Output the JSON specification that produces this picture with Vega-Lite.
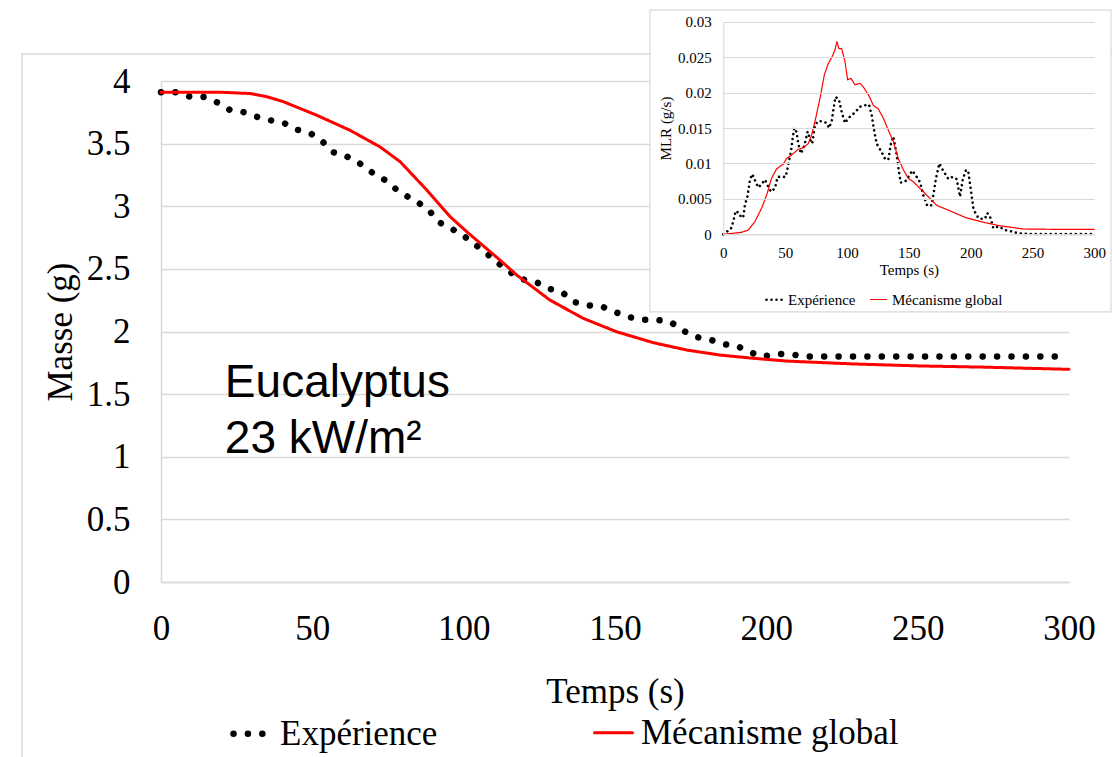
{
  "$schema": "https://vega.github.io/schema/vega-lite/v6.json",
  "width": 908,
  "height": 501,
  "autosize": {"type": "none"},
  "padding": {"left": 161, "top": 81, "right": 43, "bottom": 175},
  "background": "white",
  "config": {
    "view": {"stroke": null},
    "font": "Liberation Serif"
  },
  "datasets": {
    "one": [{}],
    "main": [
      {"t": 0, "m": 3.91, "s": "Expérience"},
      {"t": 5, "m": 3.91, "s": "Expérience"},
      {"t": 9.5, "m": 3.875, "s": "Expérience"},
      {"t": 14.1, "m": 3.872, "s": "Expérience"},
      {"t": 18.5, "m": 3.83, "s": "Expérience"},
      {"t": 22.6, "m": 3.771, "s": "Expérience"},
      {"t": 27.2, "m": 3.752, "s": "Expérience"},
      {"t": 31.6, "m": 3.715, "s": "Expérience"},
      {"t": 36.2, "m": 3.686, "s": "Expérience"},
      {"t": 40.9, "m": 3.662, "s": "Expérience"},
      {"t": 45, "m": 3.611, "s": "Expérience"},
      {"t": 49.7, "m": 3.577, "s": "Expérience"},
      {"t": 53.5, "m": 3.513, "s": "Expérience"},
      {"t": 56.9, "m": 3.431, "s": "Expérience"},
      {"t": 61.3, "m": 3.399, "s": "Expérience"},
      {"t": 65.5, "m": 3.345, "s": "Expérience"},
      {"t": 69.3, "m": 3.276, "s": "Expérience"},
      {"t": 73.4, "m": 3.22, "s": "Expérience"},
      {"t": 77.1, "m": 3.146, "s": "Expérience"},
      {"t": 81, "m": 3.084, "s": "Expérience"},
      {"t": 85.1, "m": 3.028, "s": "Expérience"},
      {"t": 88.9, "m": 2.957, "s": "Expérience"},
      {"t": 91.9, "m": 2.872, "s": "Expérience"},
      {"t": 96.2, "m": 2.818, "s": "Expérience"},
      {"t": 100.2, "m": 2.76, "s": "Expérience"},
      {"t": 104.1, "m": 2.688, "s": "Expérience"},
      {"t": 107.8, "m": 2.619, "s": "Expérience"},
      {"t": 111.4, "m": 2.545, "s": "Expérience"},
      {"t": 115.3, "m": 2.475, "s": "Expérience"},
      {"t": 119.3, "m": 2.417, "s": "Expérience"},
      {"t": 123.9, "m": 2.395, "s": "Expérience"},
      {"t": 128.2, "m": 2.342, "s": "Expérience"},
      {"t": 132.7, "m": 2.31, "s": "Expérience"},
      {"t": 136.4, "m": 2.236, "s": "Expérience"},
      {"t": 141, "m": 2.209, "s": "Expérience"},
      {"t": 145.5, "m": 2.201, "s": "Expérience"},
      {"t": 149.8, "m": 2.158, "s": "Expérience"},
      {"t": 154.1, "m": 2.118, "s": "Expérience"},
      {"t": 158.8, "m": 2.094, "s": "Expérience"},
      {"t": 163.5, "m": 2.094, "s": "Expérience"},
      {"t": 168.3, "m": 2.078, "s": "Expérience"},
      {"t": 172.1, "m": 2.012, "s": "Expérience"},
      {"t": 176.4, "m": 1.958, "s": "Expérience"},
      {"t": 181, "m": 1.938, "s": "Expérience"},
      {"t": 185.7, "m": 1.9, "s": "Expérience"},
      {"t": 190.1, "m": 1.887, "s": "Expérience"},
      {"t": 194.2, "m": 1.839, "s": "Expérience"},
      {"t": 198.5, "m": 1.799, "s": "Expérience"},
      {"t": 203.1, "m": 1.82, "s": "Expérience"},
      {"t": 207.9, "m": 1.82, "s": "Expérience"},
      {"t": 212.7, "m": 1.8, "s": "Expérience"},
      {"t": 300, "m": 1.8, "s": "Expérience"},
      {"t": 0, "m": 3.91, "s": "Mécanisme global"},
      {"t": 20, "m": 3.91, "s": "Mécanisme global"},
      {"t": 29.4, "m": 3.9, "s": "Mécanisme global"},
      {"t": 34.9, "m": 3.875, "s": "Mécanisme global"},
      {"t": 40.4, "m": 3.835, "s": "Mécanisme global"},
      {"t": 51.4, "m": 3.727, "s": "Mécanisme global"},
      {"t": 62.4, "m": 3.607, "s": "Mécanisme global"},
      {"t": 72.3, "m": 3.475, "s": "Mécanisme global"},
      {"t": 79, "m": 3.356, "s": "Mécanisme global"},
      {"t": 87.8, "m": 3.13, "s": "Mécanisme global"},
      {"t": 95.5, "m": 2.917, "s": "Mécanisme global"},
      {"t": 101, "m": 2.797, "s": "Mécanisme global"},
      {"t": 112, "m": 2.57, "s": "Mécanisme global"},
      {"t": 117.5, "m": 2.451, "s": "Mécanisme global"},
      {"t": 128.5, "m": 2.251, "s": "Mécanisme global"},
      {"t": 139.5, "m": 2.105, "s": "Mécanisme global"},
      {"t": 150.5, "m": 1.998, "s": "Mécanisme global"},
      {"t": 162.6, "m": 1.911, "s": "Mécanisme global"},
      {"t": 173.7, "m": 1.852, "s": "Mécanisme global"},
      {"t": 184.7, "m": 1.812, "s": "Mécanisme global"},
      {"t": 195.7, "m": 1.786, "s": "Mécanisme global"},
      {"t": 206.7, "m": 1.764, "s": "Mécanisme global"},
      {"t": 228.7, "m": 1.741, "s": "Mécanisme global"},
      {"t": 250.7, "m": 1.725, "s": "Mécanisme global"},
      {"t": 272.8, "m": 1.715, "s": "Mécanisme global"},
      {"t": 300, "m": 1.698, "s": "Mécanisme global"}
    ],
    "inset": [
      {"t": 0, "v": 0, "s": "Expérience"},
      {"t": 6.2, "v": 0.0008, "s": "Expérience"},
      {"t": 8.1, "v": 0.0018, "s": "Expérience"},
      {"t": 10, "v": 0.0033, "s": "Expérience"},
      {"t": 12.7, "v": 0.003, "s": "Expérience"},
      {"t": 14.8, "v": 0.0023, "s": "Expérience"},
      {"t": 16.2, "v": 0.0025, "s": "Expérience"},
      {"t": 17.5, "v": 0.0042, "s": "Expérience"},
      {"t": 19.4, "v": 0.0052, "s": "Expérience"},
      {"t": 21.6, "v": 0.0077, "s": "Expérience"},
      {"t": 23.5, "v": 0.0085, "s": "Expérience"},
      {"t": 26.1, "v": 0.0074, "s": "Expérience"},
      {"t": 28.3, "v": 0.0066, "s": "Expérience"},
      {"t": 31, "v": 0.0071, "s": "Expérience"},
      {"t": 33.7, "v": 0.0077, "s": "Expérience"},
      {"t": 36.4, "v": 0.0067, "s": "Expérience"},
      {"t": 38.5, "v": 0.006, "s": "Expérience"},
      {"t": 41.8, "v": 0.0065, "s": "Expérience"},
      {"t": 43.9, "v": 0.0081, "s": "Expérience"},
      {"t": 50.4, "v": 0.0081, "s": "Expérience"},
      {"t": 52.6, "v": 0.0098, "s": "Expérience"},
      {"t": 54.7, "v": 0.0117, "s": "Expérience"},
      {"t": 55.9, "v": 0.0133, "s": "Expérience"},
      {"t": 57.4, "v": 0.015, "s": "Expérience"},
      {"t": 59.3, "v": 0.0144, "s": "Expérience"},
      {"t": 60.6, "v": 0.0128, "s": "Expérience"},
      {"t": 62.8, "v": 0.0114, "s": "Expérience"},
      {"t": 65.5, "v": 0.0125, "s": "Expérience"},
      {"t": 68.2, "v": 0.0145, "s": "Expérience"},
      {"t": 70.1, "v": 0.0134, "s": "Expérience"},
      {"t": 71.9, "v": 0.0128, "s": "Expérience"},
      {"t": 74.1, "v": 0.0154, "s": "Expérience"},
      {"t": 76.8, "v": 0.016, "s": "Expérience"},
      {"t": 80.9, "v": 0.0159, "s": "Expérience"},
      {"t": 83.6, "v": 0.0157, "s": "Expérience"},
      {"t": 85.4, "v": 0.015, "s": "Expérience"},
      {"t": 87.6, "v": 0.0159, "s": "Expérience"},
      {"t": 89.2, "v": 0.0178, "s": "Expérience"},
      {"t": 90.8, "v": 0.0194, "s": "Expérience"},
      {"t": 93.5, "v": 0.019, "s": "Expérience"},
      {"t": 95.7, "v": 0.0173, "s": "Expérience"},
      {"t": 98.4, "v": 0.0157, "s": "Expérience"},
      {"t": 101.1, "v": 0.0164, "s": "Expérience"},
      {"t": 106.5, "v": 0.0172, "s": "Expérience"},
      {"t": 110.5, "v": 0.018, "s": "Expérience"},
      {"t": 114.6, "v": 0.0182, "s": "Expérience"},
      {"t": 117.8, "v": 0.0183, "s": "Expérience"},
      {"t": 120, "v": 0.0168, "s": "Expérience"},
      {"t": 122.1, "v": 0.0145, "s": "Expérience"},
      {"t": 124, "v": 0.0128, "s": "Expérience"},
      {"t": 126.7, "v": 0.012, "s": "Expérience"},
      {"t": 130.7, "v": 0.0107, "s": "Expérience"},
      {"t": 133.4, "v": 0.0105, "s": "Expérience"},
      {"t": 135.6, "v": 0.0128, "s": "Expérience"},
      {"t": 137.5, "v": 0.0138, "s": "Expérience"},
      {"t": 140.2, "v": 0.0112, "s": "Expérience"},
      {"t": 141.8, "v": 0.0091, "s": "Expérience"},
      {"t": 143.4, "v": 0.0073, "s": "Expérience"},
      {"t": 146.9, "v": 0.0074, "s": "Expérience"},
      {"t": 149.6, "v": 0.0081, "s": "Expérience"},
      {"t": 152.8, "v": 0.009, "s": "Expérience"},
      {"t": 156.4, "v": 0.0081, "s": "Expérience"},
      {"t": 159, "v": 0.0074, "s": "Expérience"},
      {"t": 161.8, "v": 0.0055, "s": "Expérience"},
      {"t": 165, "v": 0.004, "s": "Expérience"},
      {"t": 168.5, "v": 0.0041, "s": "Expérience"},
      {"t": 169.8, "v": 0.0055, "s": "Expérience"},
      {"t": 172, "v": 0.0079, "s": "Expérience"},
      {"t": 174.7, "v": 0.01, "s": "Expérience"},
      {"t": 177.4, "v": 0.0091, "s": "Expérience"},
      {"t": 182, "v": 0.0078, "s": "Expérience"},
      {"t": 185.5, "v": 0.0081, "s": "Expérience"},
      {"t": 188.7, "v": 0.0078, "s": "Expérience"},
      {"t": 190.1, "v": 0.0065, "s": "Expérience"},
      {"t": 191.4, "v": 0.0053, "s": "Expérience"},
      {"t": 193.6, "v": 0.0077, "s": "Expérience"},
      {"t": 196.3, "v": 0.0091, "s": "Expérience"},
      {"t": 198.1, "v": 0.0088, "s": "Expérience"},
      {"t": 200, "v": 0.0065, "s": "Expérience"},
      {"t": 202.2, "v": 0.0037, "s": "Expérience"},
      {"t": 204.3, "v": 0.0028, "s": "Expérience"},
      {"t": 207, "v": 0.0022, "s": "Expérience"},
      {"t": 211.6, "v": 0.0022, "s": "Expérience"},
      {"t": 213.5, "v": 0.003, "s": "Expérience"},
      {"t": 215.7, "v": 0.0025, "s": "Expérience"},
      {"t": 218.4, "v": 0.00085, "s": "Expérience"},
      {"t": 222.4, "v": 0.0011, "s": "Expérience"},
      {"t": 227.8, "v": 0.0006, "s": "Expérience"},
      {"t": 233.2, "v": 0.0004, "s": "Expérience"},
      {"t": 238.6, "v": 0.00015, "s": "Expérience"},
      {"t": 245, "v": 0.00005, "s": "Expérience"},
      {"t": 300, "v": 0.00005, "s": "Expérience"},
      {"t": 0, "v": 0, "s": "Mécanisme global"},
      {"t": 14.8, "v": 0.00028, "s": "Mécanisme global"},
      {"t": 20.2, "v": 0.0006, "s": "Mécanisme global"},
      {"t": 25.6, "v": 0.0018, "s": "Mécanisme global"},
      {"t": 31, "v": 0.0037, "s": "Mécanisme global"},
      {"t": 35, "v": 0.0055, "s": "Mécanisme global"},
      {"t": 39, "v": 0.0079, "s": "Mécanisme global"},
      {"t": 43, "v": 0.0092, "s": "Mécanisme global"},
      {"t": 48.5, "v": 0.0099, "s": "Mécanisme global"},
      {"t": 51.2, "v": 0.0107, "s": "Mécanisme global"},
      {"t": 55.3, "v": 0.0112, "s": "Mécanisme global"},
      {"t": 60.6, "v": 0.012, "s": "Mécanisme global"},
      {"t": 64.7, "v": 0.0122, "s": "Mécanisme global"},
      {"t": 68.7, "v": 0.0128, "s": "Mécanisme global"},
      {"t": 71.4, "v": 0.014, "s": "Mécanisme global"},
      {"t": 74.1, "v": 0.0159, "s": "Mécanisme global"},
      {"t": 78.2, "v": 0.0192, "s": "Mécanisme global"},
      {"t": 81.7, "v": 0.0225, "s": "Mécanisme global"},
      {"t": 84.9, "v": 0.0241, "s": "Mécanisme global"},
      {"t": 88.1, "v": 0.0251, "s": "Mécanisme global"},
      {"t": 90.3, "v": 0.026, "s": "Mécanisme global"},
      {"t": 91.9, "v": 0.0272, "s": "Mécanisme global"},
      {"t": 93.5, "v": 0.0262, "s": "Mécanisme global"},
      {"t": 95.7, "v": 0.0262, "s": "Mécanisme global"},
      {"t": 98.4, "v": 0.0244, "s": "Mécanisme global"},
      {"t": 100.5, "v": 0.0218, "s": "Mécanisme global"},
      {"t": 103.2, "v": 0.022, "s": "Mécanisme global"},
      {"t": 106.5, "v": 0.0211, "s": "Mécanisme global"},
      {"t": 110.5, "v": 0.0213, "s": "Mécanisme global"},
      {"t": 113.2, "v": 0.0208, "s": "Mécanisme global"},
      {"t": 117.3, "v": 0.0197, "s": "Mécanisme global"},
      {"t": 121.3, "v": 0.0182, "s": "Mécanisme global"},
      {"t": 125.3, "v": 0.0177, "s": "Mécanisme global"},
      {"t": 129.4, "v": 0.0164, "s": "Mécanisme global"},
      {"t": 133.4, "v": 0.0147, "s": "Mécanisme global"},
      {"t": 137.5, "v": 0.0131, "s": "Mécanisme global"},
      {"t": 141.5, "v": 0.0107, "s": "Mécanisme global"},
      {"t": 145.6, "v": 0.0091, "s": "Mécanisme global"},
      {"t": 149.6, "v": 0.0079, "s": "Mécanisme global"},
      {"t": 153.7, "v": 0.0074, "s": "Mécanisme global"},
      {"t": 161.8, "v": 0.006, "s": "Mécanisme global"},
      {"t": 172.5, "v": 0.0041, "s": "Mécanisme global"},
      {"t": 183.3, "v": 0.0033, "s": "Mécanisme global"},
      {"t": 196.8, "v": 0.0023, "s": "Mécanisme global"},
      {"t": 210.3, "v": 0.0017, "s": "Mécanisme global"},
      {"t": 223.8, "v": 0.0012, "s": "Mécanisme global"},
      {"t": 242.6, "v": 0.00075, "s": "Mécanisme global"},
      {"t": 269.6, "v": 0.0007, "s": "Mécanisme global"},
      {"t": 300, "v": 0.0007, "s": "Mécanisme global"}
    ]
  },
  "layer": [
    {
      "layer": [
        {
          "data": {"name": "one"},
          "mark": {"type": "rect", "fill": null, "stroke": "#d9d9d9", "strokeWidth": 1.5, "clip": false},
          "encoding": {
            "x": {"datum": -45.9, "type": "quantitative"},
            "x2": {"datum": 330},
            "y": {"datum": 4.2156, "type": "quantitative"},
            "y2": {"datum": -2}
          }
        },
        {
          "data": {"name": "main"},
          "mark": {"type": "line", "strokeCap": "round", "strokeJoin": "round"},
          "encoding": {
            "x": {
              "field": "t", "type": "quantitative",
              "scale": {"domain": [0, 300], "nice": false, "zero": false},
              "axis": {
                "orient": "bottom", "values": [0, 50, 100, 150, 200, 250, 300],
                "grid": false, "ticks": false, "domainColor": "#d9d9d9", "domainWidth": 1.5,
                "labelFont": "Liberation Serif", "labelFontSize": 35, "labelColor": "#000000",
                "labelPadding": 29, "labelFlush": false,
                "title": "Temps (s)", "titleFont": "Liberation Serif", "titleFontSize": 35,
                "titleFontWeight": "normal", "titleColor": "#000000", "titlePadding": 28
              }
            },
            "y": {
              "field": "m", "type": "quantitative",
              "scale": {"domain": [0, 4], "nice": false},
              "axis": {
                "orient": "left", "values": [0, 0.5, 1, 1.5, 2, 2.5, 3, 3.5, 4], "format": "~g",
                "grid": true, "gridColor": "#d9d9d9", "gridWidth": 1.5,
                "ticks": false, "domainColor": "#d9d9d9", "domainWidth": 1.5,
                "labelFont": "Liberation Serif", "labelFontSize": 35, "labelColor": "#000000",
                "labelPadding": 31, "labelFlush": false,
                "title": "Masse (g)", "titleFont": "Liberation Serif", "titleFontSize": 35,
                "titleFontWeight": "normal", "titleColor": "#000000", "titlePadding": 8
              }
            },
            "color": {
              "field": "s", "type": "nominal",
              "scale": {"domain": ["Expérience", "Mécanisme global"], "range": ["#000000", "#ff0000"]},
              "legend": {
                "orient": "none", "legendX": 69, "legendY": 630, "direction": "horizontal", "columns": 2,
                "title": null, "padding": 0, "columnPadding": 150, "labelOffset": 5, "labelLimit": 0,
                "labelFont": "Liberation Serif", "labelFontSize": 35, "labelColor": "#000000",
                "symbolType": "stroke", "symbolSize": 1444,
                "encode": {"symbols": {"update": {"strokeCap": {"value": "round"}}}}
              }
            },
            "strokeDash": {
              "field": "s", "type": "nominal",
              "scale": {"domain": ["Expérience", "Mécanisme global"], "range": [[0.01, 14.4], [1, 0]]},
              "legend": {
                "orient": "none", "legendX": 69, "legendY": 630, "direction": "horizontal", "columns": 2,
                "title": null, "padding": 0, "columnPadding": 150, "labelOffset": 5, "labelLimit": 0,
                "labelFont": "Liberation Serif", "labelFontSize": 35, "labelColor": "#000000",
                "symbolType": "stroke", "symbolSize": 1444,
                "encode": {"symbols": {"update": {"strokeCap": {"value": "round"}}}}
              }
            },
            "strokeWidth": {
              "field": "s", "type": "nominal",
              "scale": {"type": "ordinal", "domain": ["Expérience", "Mécanisme global"], "range": [6.5, 3]},
              "legend": {
                "orient": "none", "legendX": 69, "legendY": 630, "direction": "horizontal", "columns": 2,
                "title": null, "padding": 0, "columnPadding": 150, "labelOffset": 5, "labelLimit": 0,
                "labelFont": "Liberation Serif", "labelFontSize": 35, "labelColor": "#000000",
                "symbolType": "stroke", "symbolSize": 1444,
                "encode": {"symbols": {"update": {"strokeCap": {"value": "round"}}}}
              }
            }
          }
        },
        {
          "data": {"name": "one"},
          "mark": {"type": "text", "text": ["Eucalyptus", "23 kW/m²"], "font": "Liberation Sans", "fontSize": 46, "lineHeight": 56, "align": "left", "baseline": "alphabetic", "color": "#000000"},
          "encoding": {
            "x": {"datum": 21.1, "type": "quantitative"},
            "y": {"datum": 1.477, "type": "quantitative"}
          }
        }
      ]
    },
    {
      "layer": [
        {
          "data": {"name": "one"},
          "mark": {"type": "rect", "fill": "#ffffff", "stroke": "#d9d9d9", "strokeWidth": 1.2, "clip": false},
          "encoding": {
            "x": {"datum": -59.3, "type": "quantitative"},
            "x2": {"datum": 313.5},
            "y": {"datum": 0.03164, "type": "quantitative"},
            "y2": {"datum": -0.01096}
          }
        },
        {
          "data": {"name": "inset"},
          "mark": {"type": "line", "strokeCap": "round", "strokeJoin": "round"},
          "encoding": {
            "x": {
              "field": "t", "type": "quantitative",
              "scale": {"domain": [0, 300], "nice": false, "zero": false, "range": [562.3, 933.3]},
              "axis": {
                "orient": "bottom", "offset": -347.7, "zindex": 1, "values": [0, 50, 100, 150, 200, 250, 300],
                "grid": false, "ticks": false, "domainColor": "#d9d9d9", "domainWidth": 1.2,
                "labelFont": "Liberation Serif", "labelFontSize": 15, "labelColor": "#000000",
                "labelPadding": 11, "labelFlush": false,
                "title": "Temps (s)", "titleFont": "Liberation Serif", "titleFontSize": 15,
                "titleFontWeight": "normal", "titleColor": "#000000", "titlePadding": 2
              }
            },
            "y": {
              "field": "v", "type": "quantitative",
              "scale": {"domain": [0, 0.03], "nice": false, "range": [153.3, -59.3]},
              "axis": {
                "orient": "left", "offset": -562.3, "zindex": 1,
                "values": [0, 0.005, 0.01, 0.015, 0.02, 0.025, 0.03], "format": "~g",
                "grid": true, "gridColor": "#d9d9d9", "gridWidth": 1.2,
                "ticks": false, "domainColor": "#d9d9d9", "domainWidth": 1.2,
                "labelFont": "Liberation Serif", "labelFontSize": 15, "labelColor": "#000000",
                "labelPadding": 12, "labelFlush": false,
                "title": "MLR (g/s)", "titleFont": "Liberation Serif", "titleFontSize": 15,
                "titleFontWeight": "normal", "titleColor": "#000000", "titlePadding": 4
              }
            },
            "color": {
              "field": "s", "type": "nominal",
              "scale": {"domain": ["Expérience", "Mécanisme global"], "range": ["#000000", "#ff0000"]},
              "legend": {
                "orient": "none", "legendX": 604, "legendY": 209, "direction": "horizontal", "columns": 2,
                "title": null, "padding": 0, "columnPadding": 12, "labelOffset": 4, "labelLimit": 0,
                "labelFont": "Liberation Serif", "labelFontSize": 15, "labelColor": "#000000",
                "symbolType": "stroke", "symbolSize": 256,
                "encode": {"symbols": {"update": {"strokeCap": {"value": "round"}}}}
              }
            },
            "strokeDash": {
              "field": "s", "type": "nominal",
              "scale": {"domain": ["Expérience", "Mécanisme global"], "range": [[0.01, 5], [1, 0]]},
              "legend": {
                "orient": "none", "legendX": 604, "legendY": 209, "direction": "horizontal", "columns": 2,
                "title": null, "padding": 0, "columnPadding": 12, "labelOffset": 4, "labelLimit": 0,
                "labelFont": "Liberation Serif", "labelFontSize": 15, "labelColor": "#000000",
                "symbolType": "stroke", "symbolSize": 256,
                "encode": {"symbols": {"update": {"strokeCap": {"value": "round"}}}}
              }
            },
            "strokeWidth": {
              "field": "s", "type": "nominal",
              "scale": {"type": "ordinal", "domain": ["Expérience", "Mécanisme global"], "range": [2.6, 1.2]},
              "legend": {
                "orient": "none", "legendX": 604, "legendY": 209, "direction": "horizontal", "columns": 2,
                "title": null, "padding": 0, "columnPadding": 12, "labelOffset": 4, "labelLimit": 0,
                "labelFont": "Liberation Serif", "labelFontSize": 15, "labelColor": "#000000",
                "symbolType": "stroke", "symbolSize": 256,
                "encode": {"symbols": {"update": {"strokeCap": {"value": "round"}}}}
              }
            }
          }
        }
      ]
    }
  ],
  "resolve": {
    "scale": {"x": "independent", "y": "independent", "color": "independent", "strokeDash": "independent", "strokeWidth": "independent"},
    "axis": {"x": "independent", "y": "independent"},
    "legend": {"color": "independent", "strokeDash": "independent", "strokeWidth": "independent"}
  }
}
